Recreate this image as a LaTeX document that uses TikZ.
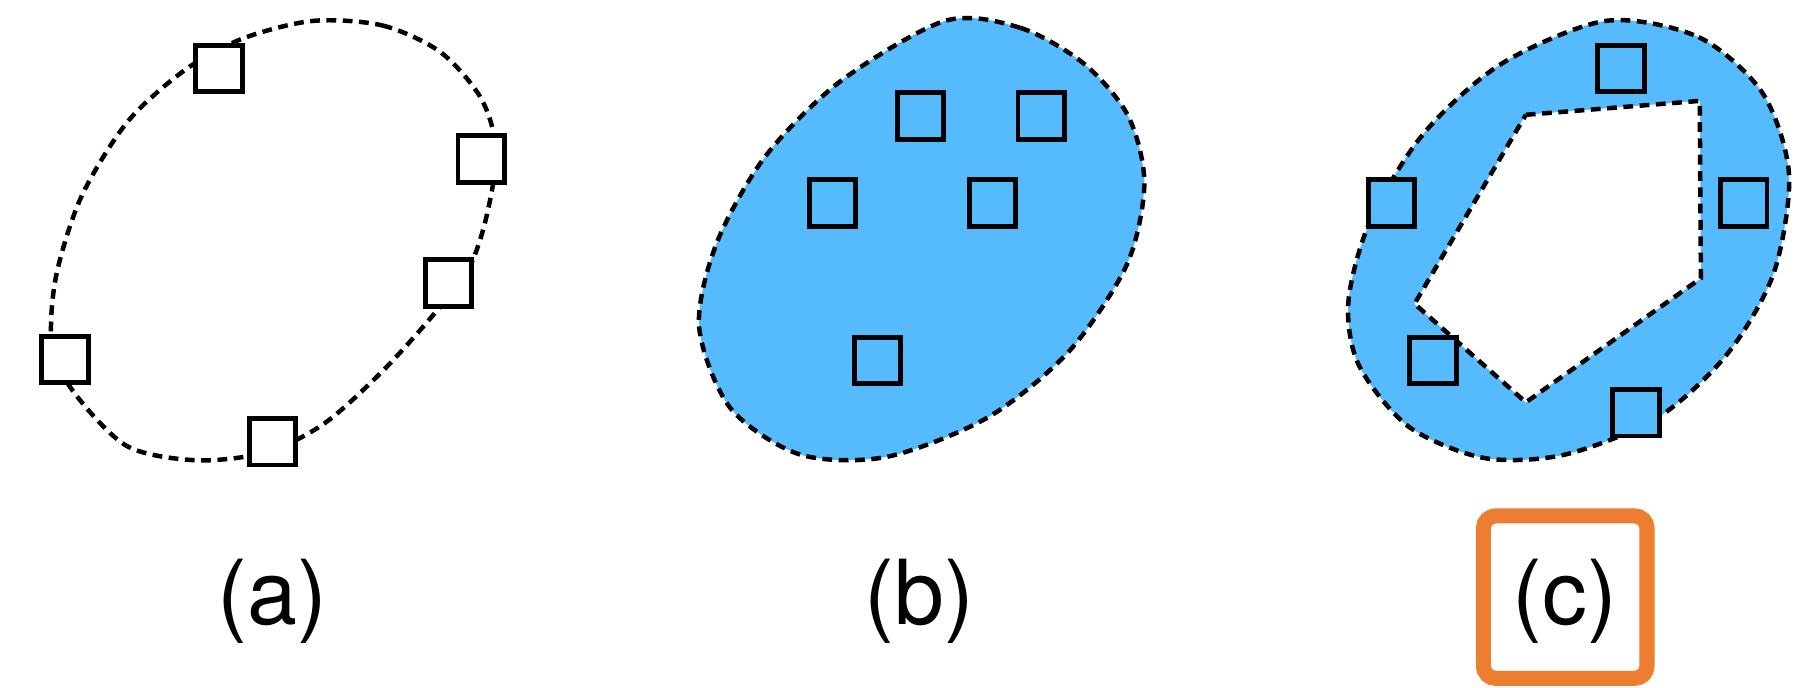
\documentclass[tikz,border=0pt]{standalone}
\usepackage{fontspec}
\setmainfont{TeX Gyre Heros}
\definecolor{blobblue}{RGB}{85,187,253}
\definecolor{frameorange}{RGB}{237,125,49}
\tikzset{
  outline/.style={line width=1.1pt, dash pattern=on 2.4pt off 1.6pt},
  sq/.style={draw, line width=1.2pt, minimum size=0.40cm, inner sep=0pt},
  lbl/.style={font=\fontsize{22}{26}\selectfont},
  frame/.style={draw=frameorange, line width=0.13cm, rounded corners=3pt,
    minimum width=1.41cm, minimum height=1.40cm}
}
\begin{document}
\begin{tikzpicture}[x=0.01cm, y=-0.01cm]
\useasboundingbox (0,0) rectangle (1568,593);
% (a)
\draw[outline] plot[smooth cycle] coordinates {(270,18) (330,22) (380,45) (415,85)
  (428,130) (420,185) (405,230) (375,270) (330,320) (280,365) (230,390) (170,397)
  (110,385) (65,340) (45,300) (48,240) (70,170) (110,105) (160,60) (210,33)};
\foreach \n/\x/\y in {1/189/59, 2/415/137, 3/387/244, 4/56/310, 5/235/381}
  \node[sq, fill=white] (a\n) at (\x,\y) {};
\node[lbl] (la) at (235,519) {(a)};
% (b)
\filldraw[outline, fill=blobblue] plot[smooth cycle] coordinates {(815,18) (880,24)
  (935,55) (973,100) (987,158) (972,228) (922,303) (852,360) (765,394) (690,392)
  (630,352) (603,282) (618,210) (660,135) (725,70)};
\foreach \n/\x/\y in {1/794/100, 2/898/100, 3/718/175, 4/856/175, 5/757/311}
  \node[sq, fill=blobblue] (b\n) at (\x,\y) {};
\node[lbl] (lb) at (793,519) {(b)};
% (c)
\filldraw[outline, fill=blobblue] plot[smooth cycle] coordinates {(1385,18) (1465,32)
  (1520,80) (1543,150) (1530,235) (1490,305) (1430,360) (1350,392) (1280,395)
  (1215,368) (1172,315) (1163,260) (1182,190) (1228,115) (1295,55)};
\filldraw[outline, fill=white] (1316,99) -- (1466,87) -- (1467,240) -- (1316,347)
  -- (1220,262) -- cycle;
\foreach \n/\x/\y in {1/1398/59, 2/1200/175, 3/1504/175, 4/1236/311, 5/1411/356}
  \node[sq, fill=blobblue] (c\n) at (\x,\y) {};
\node[lbl] (lc) at (1350,519) {(c)};
\node[frame] (fc) at (1350,515) {};
\end{tikzpicture}
\end{document}
